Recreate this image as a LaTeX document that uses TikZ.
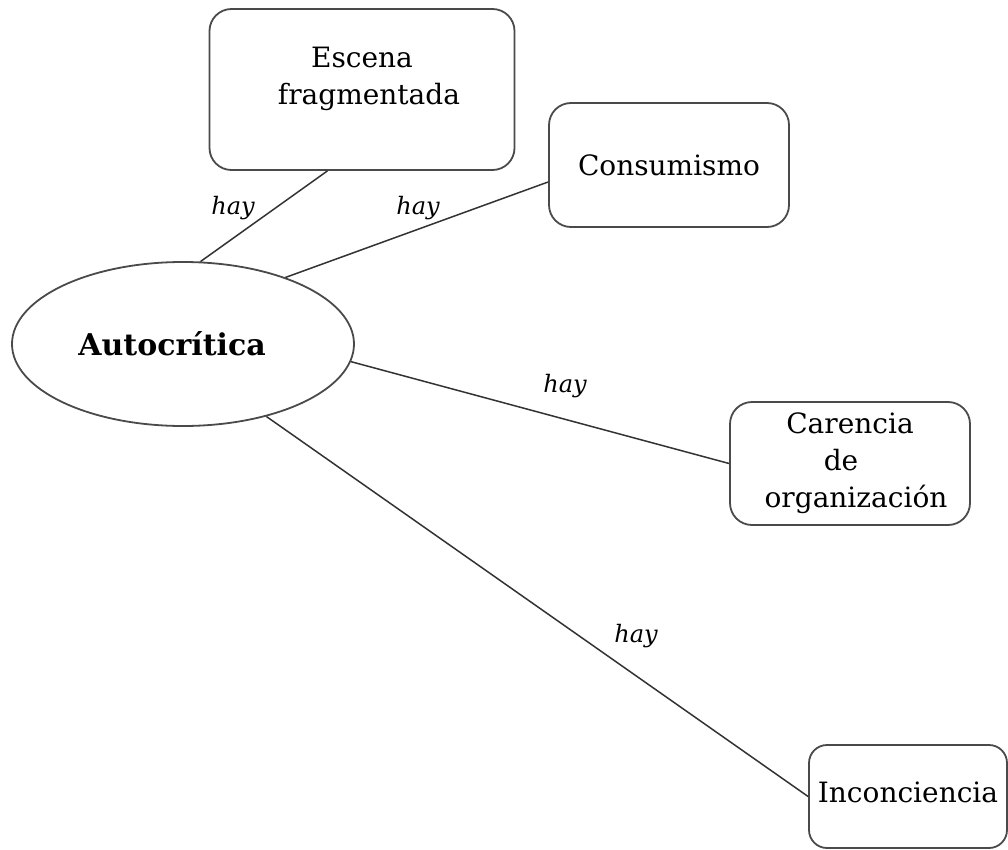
\documentclass[tikz,border=0pt]{standalone}
\usepackage{fontspec}
\setmainfont{DejaVu Serif}
\usepackage{tikz}
\usetikzlibrary{shapes.geometric}
\definecolor{boxline}{HTML}{4A4A4A}
\definecolor{linkline}{HTML}{333333}

\tikzset{
  concept/.style={draw=boxline,line width=1.8pt,rounded corners=22pt,inner sep=0pt,align=center,
    font=\fontsize{28}{37}\selectfont},
  central/.style={ellipse,draw=boxline,line width=1.8pt,inner sep=0pt,
    font=\fontsize{30}{34}\selectfont\bfseries},
  link/.style={draw=linkline,line width=1.5pt},
  hay/.style={font=\fontsize{24}{28}\selectfont\itshape}
}

\begin{document}
\begin{tikzpicture}[x=1pt,y=-1pt]
\useasboundingbox (0,0) rectangle (1008,850);
  \node[central,minimum width=342pt,minimum height=164pt] (auto) at (183,344) {\hspace*{-22pt}Autocrítica};
  \node[concept,minimum width=305pt,minimum height=161pt] (escena) at (362,89.5) {Escena\\\hspace*{14pt}fragmentada\\[-10pt]\mbox{}};
  \node[concept,minimum width=240pt,minimum height=124pt] (consumo) at (669,165) {Consumismo};
  \node[concept,minimum width=240pt,minimum height=123pt] (carencia) at (850,463.5) {Carencia\\\hspace*{-18pt}de\\\hspace*{12pt}organización};
  \node[concept,minimum width=198pt,minimum height=103pt,rounded corners=18pt] (incon) at (908,796.5) {Inconciencia\\[-29pt]\mbox{}};
%% links
   \draw[link] (auto.78) -- (escena.247);
   \draw[link] (auto.33) -- (consumo.188);
   \draw[link] (auto.-6) -- (carencia.west);
   \draw[link] (auto.-41) -- (incon.west);
   \node[hay] (hay1) at (233,208) {hay};
   \node[hay] (hay2) at (418,208) {hay};
   \node[hay] (hay3) at (565,386) {hay};
   \node[hay] (hay4) at (636,636) {hay};
\end{tikzpicture}
\end{document}
